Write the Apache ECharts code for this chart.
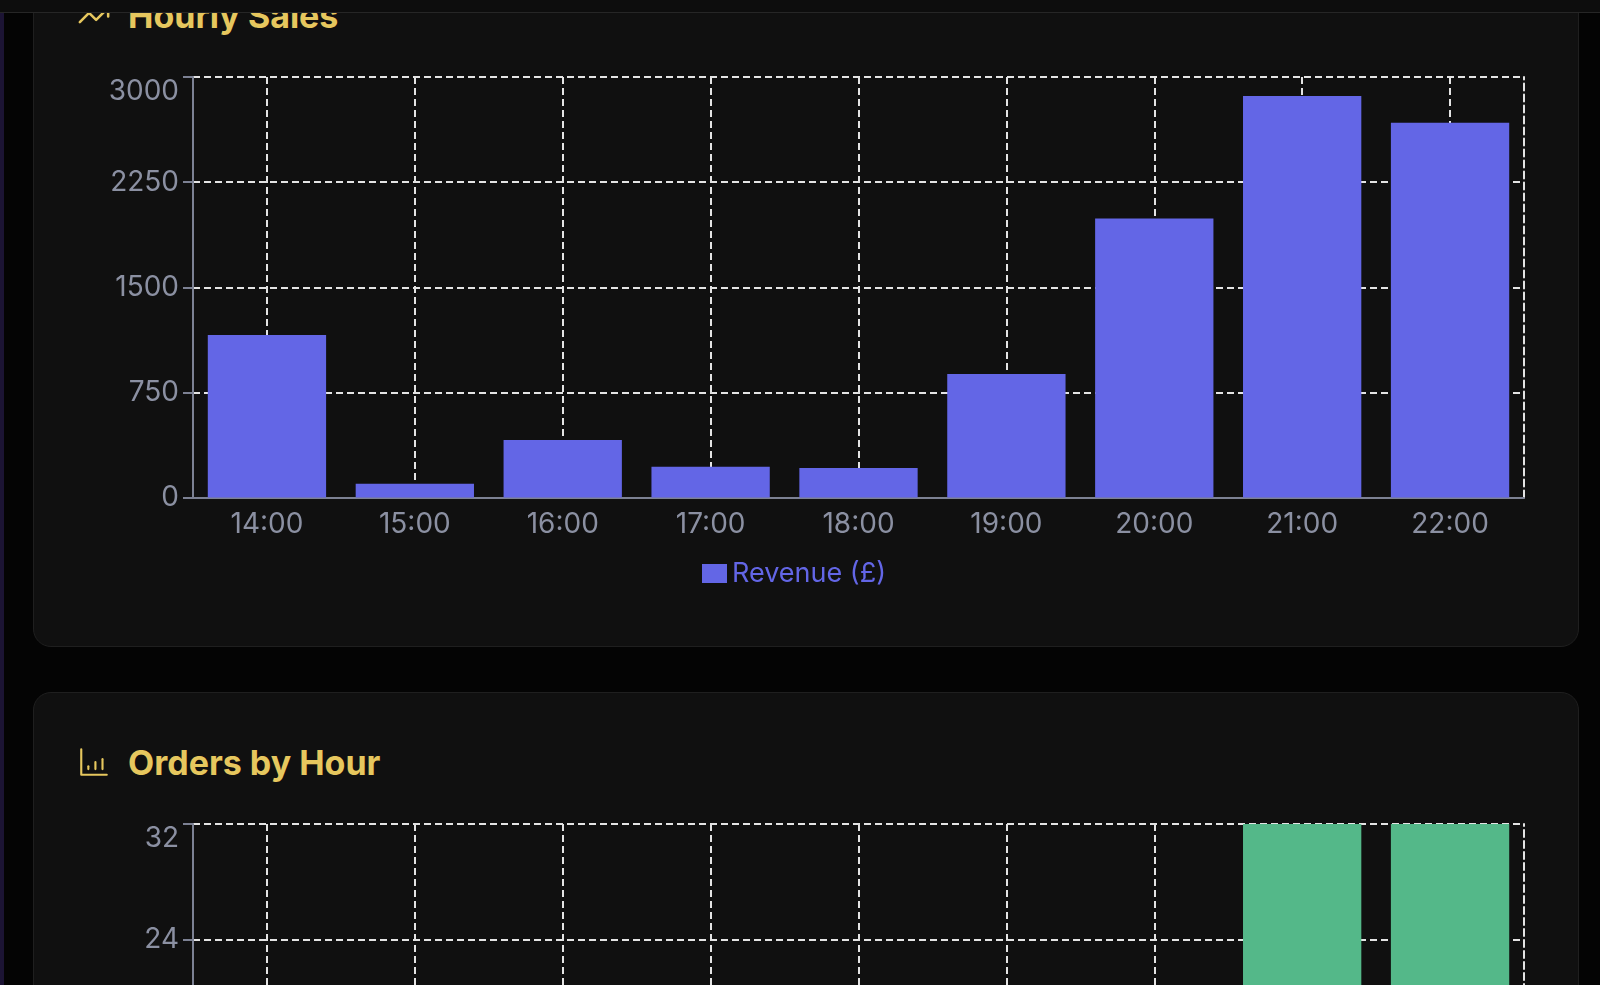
<!DOCTYPE html>
<html>
<head>
<meta charset="utf-8">
<script src="https://cdn.jsdelivr.net/npm/echarts@6/dist/echarts.min.js"></script>
<style>
    html, body { margin: 0; padding: 0; }
    body {
        width: 1600px; height: 985px; overflow: hidden; position: relative;
        background: #040404; font-family: Inter, "Noto Sans", sans-serif;
    }
    .strip { position: absolute; left: 0; top: 0; width: 4px; height: 985px; background: #1c1434; }
    .topbar {
        position: absolute; left: 0; top: 0; width: 1600px; height: 12px;
        background: #0d0d0d; border-bottom: 1px solid #262626; z-index: 5;
    }
    .card {
        position: absolute; left: 33px; width: 1544px; height: 700px;
        background: #101010; border: 1px solid #1f1f1f; border-radius: 18px;
    }
    .title {
        position: absolute; left: 128px; height: 34px; line-height: 34px;
        font-size: 34px; font-weight: 700; color: #e6c75e; white-space: nowrap; z-index: 2;
    }
    .icon { position: absolute; left: 77px; width: 34px; height: 34px; z-index: 2; }
    .chart { position: absolute; left: 33px; width: 1546px; height: 600px; z-index: 1; }
</style>
</head>
<body>
<div class="strip"></div>
<div class="card" style="top:-55px"></div>
<div class="card" style="top:692px"></div>

<svg class="icon" style="top:-2px" viewBox="0 0 24 24" fill="none" stroke="#e6c75e" stroke-width="1.8" stroke-linecap="round" stroke-linejoin="round">
    <polyline points="22 7 13.5 15.5 8.5 10.5 2 17"></polyline>
    <polyline points="16 7 22 7 22 13"></polyline>
</svg>
<div class="title" style="top:-1px">Hourly Sales</div>

<svg class="icon" style="top:745px" viewBox="0 0 24 24" fill="none" stroke="#e6c75e" stroke-width="1.5" stroke-linecap="round" stroke-linejoin="round">
    <path d="M3 3v18h18"></path>
    <path d="M8 17v-2"></path>
    <path d="M13 17v-5"></path>
    <path d="M18 17V10"></path>
</svg>
<div class="title" style="top:746px">Orders by Hour</div>

<div class="topbar"></div>

<div id="sales" class="chart" style="top:40px"></div>
<div id="orders" class="chart" style="top:787px"></div>

<script>
// Données
const hours = ["14:00", "15:00", "16:00", "17:00", "18:00", "19:00", "20:00", "21:00", "22:00"];
const revenue = [1159, 98, 410, 220, 210, 881, 1990, 2864, 2674];
const orders = [13, 1, 4, 2, 2, 8, 19, 32, 32];

const revenueTicks = { min: 0, max: 3000, interval: 750 };
const orderTicks = { min: 0, max: 32, interval: 8 };

const labelColor = "#8b90a2";
const axisColor = "#7c8193";
const gridColor = "#e4e4e4";

function buildOption(name, values, ticks, color, gridHeight)
{
    return {
        animation: false,
        textStyle: { fontFamily: "Inter" },
        grid: { left: 160, top: 37, width: 1331, height: gridHeight },
        legend: {
            data: [name],
            left: 664,
            top: 515,
            itemWidth: 25,
            itemHeight: 19,
            itemGap: 10,
            icon: "rect",
            textStyle: { color: color, fontSize: 27, fontFamily: "Inter" }
        },
        xAxis: {
            type: "category",
            data: hours,
            axisLine: { lineStyle: { color: axisColor, width: 2 } },
            axisTick: { alignWithLabel: true, length: 10, lineStyle: { color: axisColor, width: 2 } },
            axisLabel: { color: labelColor, fontSize: 28, margin: 13 },
            splitLine: {
                show: true,
                alignWithLabel: true,
                lineStyle: { color: gridColor, width: 2, type: [7, 4] }
            }
        },
        yAxis: [
            {
                type: "value",
                min: ticks.min,
                max: ticks.max,
                interval: ticks.interval,
                axisLine: { show: true, lineStyle: { color: axisColor, width: 2 } },
                axisTick: { show: true, length: 10, lineStyle: { color: axisColor, width: 2 } },
                axisLabel: {
                    color: labelColor,
                    fontSize: 28,
                    margin: 14,
                    // la graduation du haut est décalée vers le bas
                    formatter: v => v === ticks.max ? "{top|" + v + "}" : String(v),
                    rich: { top: { color: labelColor, fontSize: 28, padding: [30, 0, 0, 0] } }
                },
                splitLine: { lineStyle: { color: gridColor, width: 2, type: [7, 4] } }
            },
            {
                // bordure droite en pointillés
                type: "value",
                position: "right",
                min: 0,
                max: 1,
                axisLine: { show: true, onZero: false, lineStyle: { color: gridColor, width: 2, type: [7, 4] } },
                axisTick: { show: false },
                axisLabel: { show: false },
                splitLine: { show: false }
            }
        ],
        series: [{
            name: name,
            type: "bar",
            data: values,
            barCategoryGap: "20%",
            itemStyle: { color: color }
        }]
    };
}

echarts.init(document.getElementById("sales"))
    .setOption(buildOption("Revenue (£)", revenue, revenueTicks, "#6366e6", 420.5));

echarts.init(document.getElementById("orders"))
    .setOption(buildOption("Orders", orders, orderTicks, "#54b889", 464));
</script>
</body>
</html>
